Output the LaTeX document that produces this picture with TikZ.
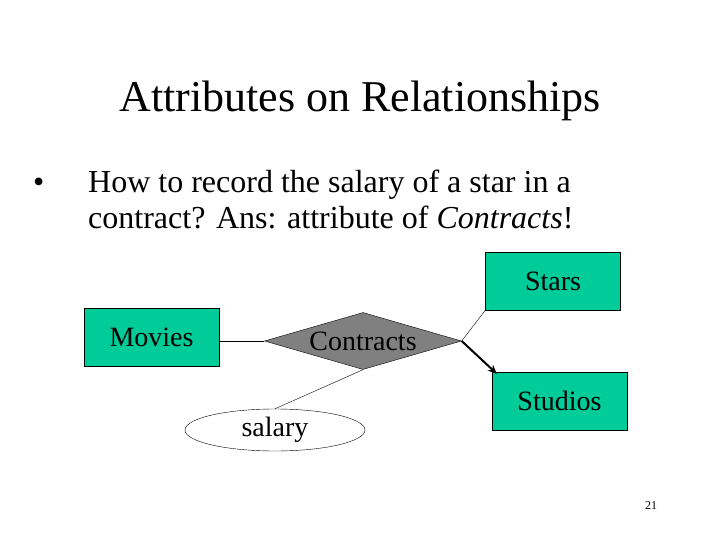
\documentclass[tikz,border=0pt]{standalone}
\usepackage{fontspec}
\setmainfont{Liberation Serif}
\usetikzlibrary{shapes.geometric,arrows.meta}
\definecolor{entgreen}{RGB}{0,204,153}
\definecolor{relgray}{RGB}{128,128,128}
\tikzset{
  entity/.style={draw, fill=entgreen, minimum width=135pt, minimum height=58pt, inner sep=0pt, font=\fontsize{28}{32}\selectfont},
  relship/.style={draw, diamond, fill=relgray, aspect=3.45, minimum width=197pt, minimum height=57pt, inner sep=0pt, font=\fontsize{28}{32}\selectfont},
  attrib/.style={draw, ellipse, minimum width=180pt, minimum height=42pt, inner sep=0pt, font=\fontsize{28}{32}\selectfont},
  bodytext/.style={anchor=base west, inner sep=0pt, font=\fontsize{32}{38}\selectfont}
}
\begin{document}
\begin{tikzpicture}[x=1pt, y=-1pt]
    \useasboundingbox (0,0) rectangle (720,540);
    \node[anchor=base, inner sep=0pt, font=\fontsize{44}{50}\selectfont] (ttl) at (360,112) {Attributes on Relationships};
    \node[bodytext] (bul) at (33,193) {\textbullet};
    \node[bodytext] (ln1) at (88,193) {How to record the salary of a star in a};
    \node[bodytext] (ln2) at (88,229) {contract? Ans: attribute of \textit{Contracts}!};

    \node[relship] (con) at (363,341)                  {Contracts};
    \node[entity]  (mov) at ([shift={(-211.5,-4)}] con) {Movies};
    \node[entity]  (sta) at ([shift={( 190,-60)}]  con) {Stars};
    \node[entity]  (stu) at ([shift={( 196.5,60)}] con) {Studios};
    \node[attrib]  (sal) at ([shift={(-88,89)}]    con) {salary};
    \node[anchor=base, inner sep=0pt, font=\fontsize{12}{14}\selectfont] (num) at (651,509) {21};

    \draw (con.west -| mov.east) to (con.west);
    \draw (con.south) to (sal.north);
    \draw (con.east) to (sta.south west);
    \draw [-{Stealth[length=9pt,width=8pt]}, line width=2pt] (con.east) to ([shift={(5,2)}] stu.north west);
  \end{tikzpicture}
\end{document}
